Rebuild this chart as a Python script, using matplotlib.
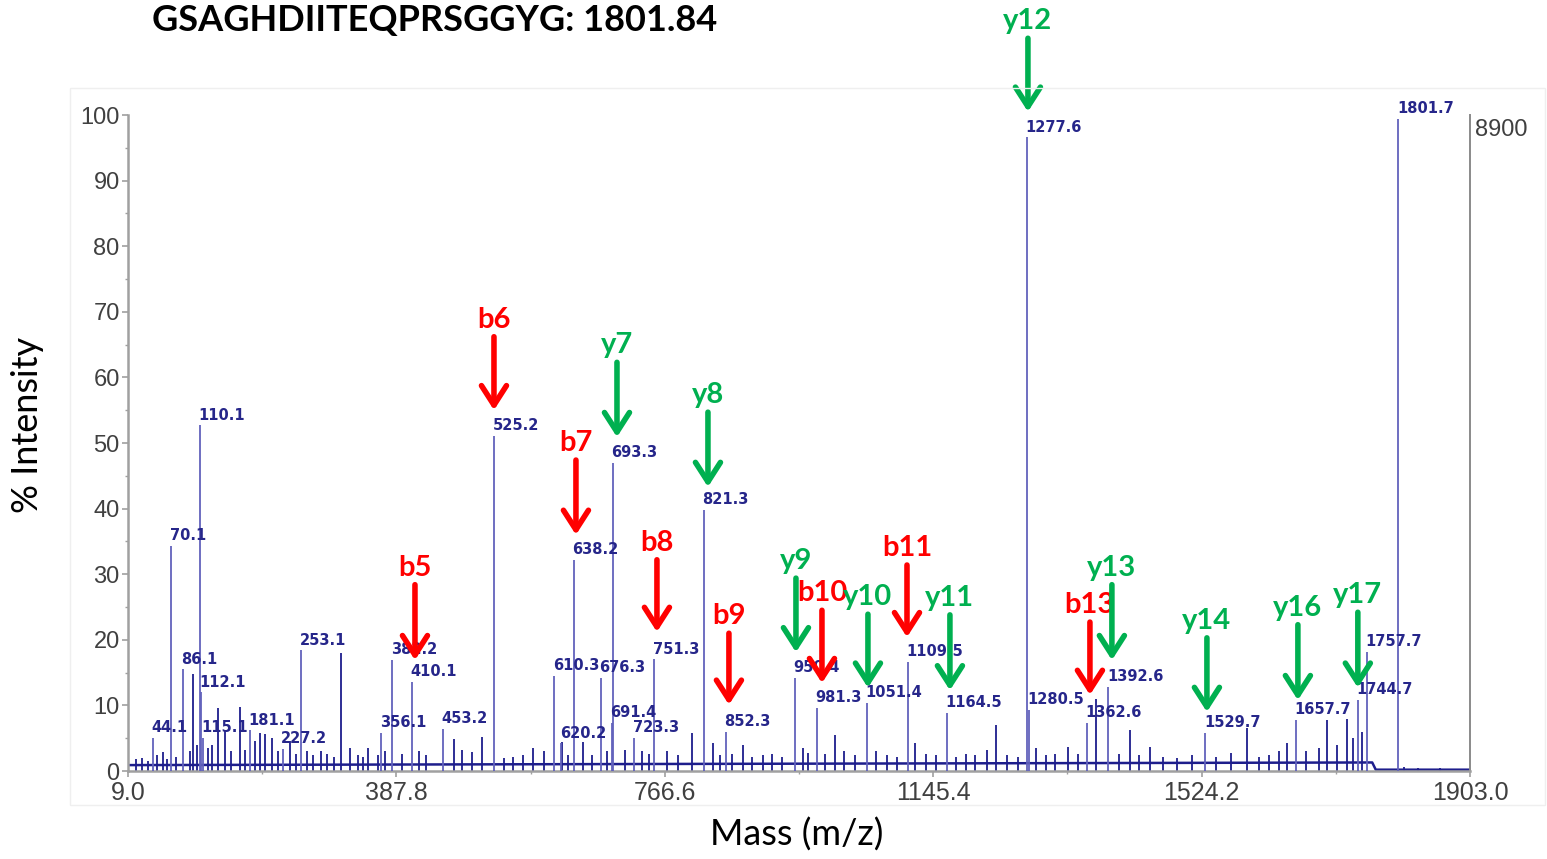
import matplotlib
matplotlib.use("Agg")
import matplotlib.pyplot as plt
from matplotlib.ticker import MultipleLocator, FixedLocator
from matplotlib.patches import Rectangle

# spettro MS/MS del peptide GSAGHDIITEQPRSGGYG
titolo = "GSAGHDIITEQPRSGGYG: 1801.84"

# picchi etichettati (posizione, altezza in % intensita)
peak_mz = [44.1, 70.1, 86.1, 110.1, 112.1, 115.1, 181.1, 227.2, 253.1, 366.1,
           382.2, 410.1, 453.2, 525.2, 610.3, 620.2, 638.2, 676.3, 691.4, 693.3,
           723.3, 751.3, 821.3, 852.3, 950.4, 981.3, 1051.4, 1109.5, 1164.5, 1277.6,
           1280.5, 1362.6, 1392.6, 1529.7, 1657.7, 1744.7, 1757.7, 1801.7]
peak_int = [5.0, 34.3, 15.5, 52.7, 12.0, 5.0, 6.2, 3.4, 18.4, 5.8,
            16.9, 13.6, 6.4, 51.1, 14.5, 4.2, 32.2, 14.2, 7.3, 47.0,
            5.0, 17.0, 39.8, 6.0, 14.2, 9.6, 10.4, 16.6, 8.8, 96.6,
            9.3, 7.3, 12.8, 5.8, 7.8, 10.8, 18.1, 99.4]
peak_labels = ["44.1", "70.1", "86.1", "110.1", "112.1", "115.1", "181.1", "227.2", "253.1", "356.1",
               "382.2", "410.1", "453.2", "525.2", "610.3", "620.2", "638.2", "676.3", "691.4", "693.3",
               "723.3", "751.3", "821.3", "852.3", "950.4", "981.3", "1051.4", "1109.5", "1164.5", "1277.6",
               "1280.5", "1362.6", "1392.6", "1529.7", "1657.7", "1744.7", "1757.7", "1801.7"]

# picchi minori non etichettati (rumore)
noise_mz = [20, 29, 37, 50, 58, 64, 77, 96, 101.1, 106, 122, 128, 136.1, 146, 155, 167, 174,
            188, 195, 202, 212, 220, 238, 246, 262, 270, 282, 290, 300, 309.6, 322, 333, 341,
            348, 362, 372, 395, 420, 430, 469, 480, 495, 508, 540, 552, 566, 580.5, 596, 621,
            630, 651, 664, 685, 710, 735, 745, 770, 785, 805, 834, 845, 862, 877, 890, 905,
            918, 932, 962, 968, 992, 1007, 1020, 1035, 1065, 1080, 1095, 1120, 1135, 1150,
            1178, 1192, 1205, 1221, 1234, 1250, 1265, 1290, 1305, 1318, 1336, 1350, 1374.6,
            1408, 1423, 1436, 1451, 1470, 1490, 1511, 1545, 1566, 1588, 1605, 1620, 1633,
            1645, 1672, 1690, 1701, 1715, 1729, 1738, 1750, 1810, 1830, 1860]
noise_int = [1.8, 2.0, 1.6, 2.4, 2.9, 1.8, 2.2, 3.0, 14.8, 4.0, 3.5, 4.0, 9.6, 6.2, 3.0, 9.8, 3.2,
             4.5, 5.8, 5.7, 5.0, 3.0, 4.5, 2.6, 3.0, 2.4, 3.0, 2.6, 2.2, 18.0, 3.5, 2.5, 2.2,
             3.5, 2.5, 3.0, 2.6, 3.0, 2.4, 4.9, 3.2, 2.9, 5.2, 2.0, 2.2, 2.4, 3.5, 3.0, 4.4,
             2.5, 4.4, 2.4, 3.0, 3.2, 3.0, 2.6, 3.0, 2.4, 5.8, 4.2, 2.4, 2.6, 4.0, 2.2, 2.4,
             2.6, 2.2, 3.5, 2.8, 2.6, 5.5, 3.0, 2.4, 3.0, 2.4, 2.2, 4.3, 2.6, 2.4,
             2.2, 2.6, 2.4, 3.2, 7.0, 2.4, 2.2, 3.5, 2.4, 2.6, 3.7, 2.6, 11.0,
             2.6, 6.2, 2.4, 3.7, 2.2, 2.0, 2.5, 2.2, 2.7, 6.5, 2.2, 2.4, 3.0,
             4.3, 3.0, 3.5, 7.8, 4.0, 8.0, 5.0, 6.0, 0.6, 0.5, 0.4]

baseline_mz = [9, 1765, 1770, 1903]
baseline_int = [0.9, 1.3, 0.2, 0.2]

# frecce ioni b (rosse) e y (verdi): posizione, punta, coda
ioni_b = ["b5", "b6", "b7", "b8", "b9", "b10", "b11", "b13"]
b_mz = [414.0, 525.5, 641.2, 755.5, 857.1, 988.4, 1108.4, 1366.6]
b_punta = [16.9, 55.0, 36.0, 21.2, 10.1, 13.4, 20.4, 11.6]
b_coda = [28.4, 66.2, 47.4, 32.2, 21.0, 24.5, 31.4, 22.7]

ioni_y = ["y7", "y8", "y9", "y10", "y11", "y12", "y13", "y14", "y16", "y17"]
y_mz = [699.1, 827.5, 951.7, 1053.3, 1169.0, 1279.1, 1397.6, 1531.7, 1660.1, 1744.7]
y_punta = [50.9, 43.3, 18.1, 12.7, 12.3, 100.5, 16.9, 9.0, 10.8, 12.7]
y_coda = [62.3, 54.7, 29.4, 23.9, 23.8, 111.7, 28.4, 20.3, 22.3, 24.2]

x_ticks = [9.0, 387.8, 766.6, 1145.4, 1524.2, 1903.0]

ROSSO = "#ff0000"
VERDE = "#00b050"
BLU = "#1e1e8c"

fig = plt.figure(figsize=(15.47, 8.59), dpi=100)
ax = fig.add_axes([128 / 1547, 1 - 771 / 859, (1470 - 128) / 1547, (771 - 115) / 859])

# cornice molto chiara intorno al grafico
fig.patches.append(Rectangle((70 / 1547, 1 - 805 / 859), 1475 / 1547, 717 / 859,
                             transform=fig.transFigure, fill=False, ec="#efefef", lw=1))

ax.plot(baseline_mz, baseline_int, color=BLU, lw=1.8, zorder=2)
ax.vlines(noise_mz, 0, noise_int, color=BLU, lw=1.3, zorder=2)
ax.vlines(peak_mz, 0, peak_int, color="#6262bc", lw=1.3, zorder=3)

for mz, h, lab in zip(peak_mz, peak_int, peak_labels):
    ax.annotate(lab, (mz, h), xytext=(-1, 2), textcoords="offset points",
                ha="left", va="bottom", fontsize=10.5, fontweight="bold",
                color="#26268a", family="DejaVu Sans", annotation_clip=False)


def frecce(nomi, xs, punte, code, colore):
    for nome, x, p, c in zip(nomi, xs, punte, code):
        ax.annotate("", xy=(x, p), xytext=(x, c),
                    arrowprops=dict(arrowstyle="->,head_length=0.7,head_width=0.45",
                                    lw=4, color=colore, shrinkA=0, shrinkB=0,
                                    mutation_scale=20),
                    annotation_clip=False, zorder=5)
        ax.text(x, c + 1.4, nome, ha="center", va="baseline", fontsize=21,
                fontweight="bold", color=colore, family="Lato", zorder=5, clip_on=False)


frecce(ioni_b, b_mz, b_punta, b_coda, ROSSO)
frecce(ioni_y, y_mz, y_punta, y_coda, VERDE)

ax.set_xlim(9.0, 1903.0)
ax.set_ylim(0, 100)
ax.xaxis.set_major_locator(FixedLocator(x_ticks))
ax.set_xticklabels([f"{t:.1f}" for t in x_ticks])
ax.xaxis.set_minor_locator(FixedLocator([(a + b) / 2 for a, b in zip(x_ticks[:-1], x_ticks[1:])]))
ax.yaxis.set_major_locator(MultipleLocator(10))
ax.yaxis.set_minor_locator(MultipleLocator(5))

for s in ["left", "bottom", "right"]:
    ax.spines[s].set_color("#a0a0a0")
    ax.spines[s].set_linewidth(1.8)
ax.spines["right"].set_color("#8a8a8a")
ax.spines["right"].set_linewidth(1.4)
ax.spines["top"].set_visible(False)

ax.tick_params(axis="both", which="major", length=4, width=1.2, color="#a0a0a0",
               labelcolor="#404040")
ax.tick_params(axis="both", which="minor", length=2.5, width=1, color="#a0a0a0")
ax.tick_params(axis="x", labelsize=18, pad=3.5)
ax.tick_params(axis="y", labelsize=17, pad=2)
for t in ax.get_xticklabels() + ax.get_yticklabels():
    t.set_family("Liberation Sans")

ax.text(1.004, 0.977, "8900", transform=ax.transAxes, ha="left", va="center",
        fontsize=17, color="#404040", family="Liberation Sans")

fig.text(152 / 1547, 1 - 21 / 859, titolo, ha="left", va="center", fontsize=26,
         fontweight="bold", family="Lato", color="black")
fig.text(28 / 1547, 1 - 425 / 859, "% Intensity", rotation=90, ha="center", va="center",
         fontsize=26, family="Lato", color="black")
fig.text(797 / 1547, 1 - 835 / 859, "Mass (m/z)", ha="center", va="center",
         fontsize=26, family="Lato", color="black")

fig.savefig("out.png", dpi=100, facecolor="white")
